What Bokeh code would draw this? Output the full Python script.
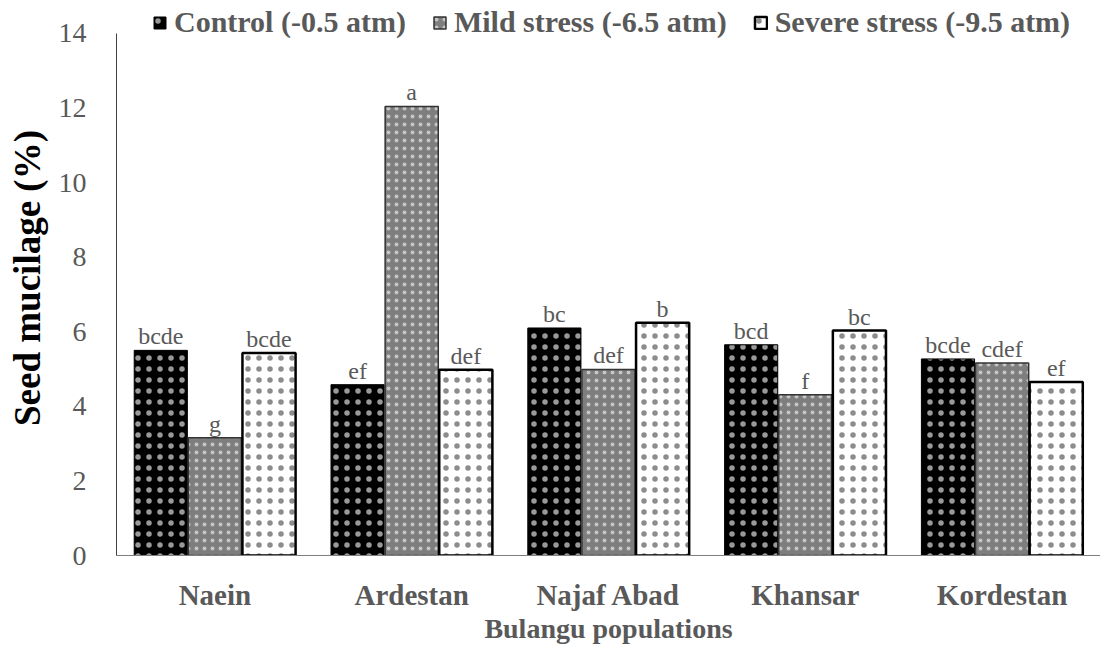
from bokeh.plotting import figure
from bokeh.models import ColumnDataSource, FactorRange, Range1d, Legend, LegendItem, FixedTicker
from bokeh.transform import dodge
from bokeh.core.properties import value
from bokeh.embed import file_html
from bokeh.resources import INLINE

populations = ["Naein", "Ardestan", "Najaf Abad", "Khansar", "Kordestan"]
control = [5.50, 4.58, 6.10, 5.65, 5.27]
mild = [3.16, 12.04, 4.99, 4.31, 5.16]
severe = [5.43, 4.98, 6.24, 6.03, 4.65]
control_letters = ["bcde", "ef", "bc", "bcd", "bcde"]
mild_letters = ["g", "a", "def", "f", "cdef"]
severe_letters = ["bcde", "def", "b", "bc", "ef"]
series_names = ["Control (-0.5 atm)", "Mild stress (-6.5 atm)", "Severe stress (-9.5 atm)"]
y_ticks = [0, 2, 4, 6, 8, 10, 12, 14]

src = ColumnDataSource(dict(pop=populations, control=control, mild=mild, severe=severe,
                            cl=control_letters, ml=mild_letters, sl=severe_letters))

SERIF = "Liberation Serif"
GREY = "#595959"

p = figure(x_range=FactorRange(*populations, range_padding=0), y_range=Range1d(0, 14.88),
           width=1100, height=650, output_backend="svg", toolbar_location=None,
           min_border_left=116, min_border_right=0, min_border_top=0, min_border_bottom=95)
p.grid.visible = False
p.outline_line_color = None

bw = 0.27
off = 0.275
r1 = p.vbar(x=dodge("pop", -off, range=p.x_range), top="control", width=bw, source=src,
            fill_color="black", line_color="black", line_width=1,
            hatch_pattern="dot", hatch_color="white", hatch_alpha=0.6, hatch_scale=11)
r2 = p.vbar(x=dodge("pop", 0, range=p.x_range), top="mild", width=bw, source=src,
            fill_color="#7e7e7e", line_color="#333333", line_width=1.5,
            hatch_pattern="dot", hatch_color="white", hatch_alpha=0.55, hatch_scale=8)
r3 = p.vbar(x=dodge("pop", off, range=p.x_range), top="severe", width=bw, source=src,
            fill_color="white", line_color="black", line_width=2.5,
            hatch_pattern="dot", hatch_color="black", hatch_alpha=0.45, hatch_scale=11)

for col, lab, dx in [("control", "cl", -off), ("mild", "ml", 0), ("severe", "sl", off)]:
    p.text(x=dodge("pop", dx, range=p.x_range), y=col, text=lab, source=src,
           text_font=value(SERIF), text_font_size="24px", text_color=GREY,
           text_align="center", text_baseline="alphabetic", y_offset=-14)

legend = Legend(items=[LegendItem(label=series_names[0], renderers=[r1]),
                       LegendItem(label=series_names[1], renderers=[r2]),
                       LegendItem(label=series_names[2], renderers=[r3])],
                orientation="horizontal", location=(36, 516),
                label_text_font=SERIF, label_text_font_style="bold",
                label_text_font_size="30px", label_text_color=GREY,
                glyph_width=15, glyph_height=15, label_standoff=7, spacing=26,
                padding=0, margin=0, label_height=30,
                border_line_alpha=0, background_fill_alpha=0)
p.add_layout(legend)

xa = p.xaxis[0]
xa.major_tick_line_color = None
xa.minor_tick_line_color = None
xa.major_tick_out = 0
xa.major_tick_in = 0
xa.axis_line_color = "#7f7f7f"
xa.major_label_text_font = SERIF
xa.major_label_text_font_style = "bold"
xa.major_label_text_font_size = "29px"
xa.major_label_text_color = GREY
xa.major_label_standoff = 23
xa.axis_label = "Bulangu populations"
xa.axis_label_text_font = SERIF
xa.axis_label_text_font_style = "bold"
xa.axis_label_text_font_size = "28px"
xa.axis_label_text_color = GREY
xa.axis_label_standoff = -1

ya = p.yaxis[0]
ya.ticker = FixedTicker(ticks=y_ticks)
ya.bounds = (0, 14)
ya.major_tick_line_color = None
ya.minor_tick_line_color = None
ya.major_tick_out = 0
ya.major_tick_in = 0
ya.axis_line_color = "#404040"
ya.major_label_text_font = SERIF
ya.major_label_text_font_size = "28px"
ya.major_label_text_color = GREY
ya.major_label_standoff = 30
ya.axis_label = "Seed mucilage (%)"
ya.axis_label_text_font = SERIF
ya.axis_label_text_font_style = "bold"
ya.axis_label_text_font_size = "37px"
ya.axis_label_text_color = "black"
ya.axis_label_standoff = 8

open("out.html", "w").write(file_html(p, INLINE))
